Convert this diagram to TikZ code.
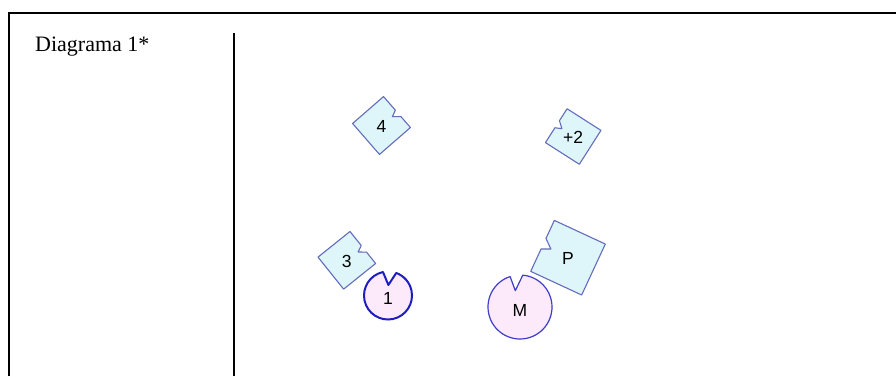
\documentclass[tikz,border=0pt]{standalone}
\usepackage{fontspec}
\setmainfont{Liberation Serif}
\newfontfamily\labelfont{Liberation Sans}
\definecolor{piecefill}{RGB}{222,246,250}
\definecolor{pieceline}{RGB}{100,108,188}
\definecolor{discfill}{RGB}{252,233,250}
\definecolor{discline}{RGB}{62,62,200}
\definecolor{discdark}{RGB}{30,30,190}

\begin{document}
\begin{tikzpicture}[x=1pt,y=1pt,
    piece/.style={draw=pieceline,fill=piecefill,line width=1.1pt,line join=round},
    disc/.style={draw=discline,fill=discfill,line width=1.2pt,line join=round},
    tag/.style={font=\labelfont\fontsize{17.5}{17.5}\selectfont,inner sep=0pt}]
    \useasboundingbox (0,0) rectangle (896,376);
    % frame and divider
    \draw[line width=2.5pt] (9,0) -- (9,363) -- (896,363);
    \draw[line width=2pt] (234,0) -- (234,343);
    \node[anchor=base west,inner sep=0pt,font=\fontsize{22}{22}\selectfont] (title) at (35,324.3) {Diagrama 1*};
    % square pieces with a notch
    \foreach \px/\py/\rot/\sc/\id/\txt in {381.5/250.5/-49/1/four/4, 573.2/239.5/57.4/0.98/two/+2, 346.8/115.7/-51.3/1/three/3, 568/118.3/65.1/1.37/P/P} {
        \begin{scope}[shift={(\px,\py)},rotate=\rot,scale=\sc]
            \draw[piece] (-20.5,20.5) -- (-2.5,20.5) -- (0.5,14) -- (6,20.5) -- (20.5,20.5) -- (20.5,-20.5) -- (-20.5,-20.5) -- cycle;
        \end{scope}
        \node[tag] (piece-\id) at (\px,\py-1) {\txt};
    }
    % round pieces
    \begin{scope}[shift={(388,80.5)}]
        \draw[disc,draw=discdark,line width=2pt] (102:24) arc[start angle=102,end angle=430,radius=24] -- (88:10.5) -- cycle;
    \end{scope}
    \node[tag] (disc-1) at (388,78) {1};
    \begin{scope}[shift={(520,69)}]
        \draw[disc] (108:32) arc[start angle=108,end angle=445,radius=32] -- (106:17) -- cycle;
    \end{scope}
    \node[tag] (disc-M) at (520,66) {M};
\end{tikzpicture}
\end{document}
